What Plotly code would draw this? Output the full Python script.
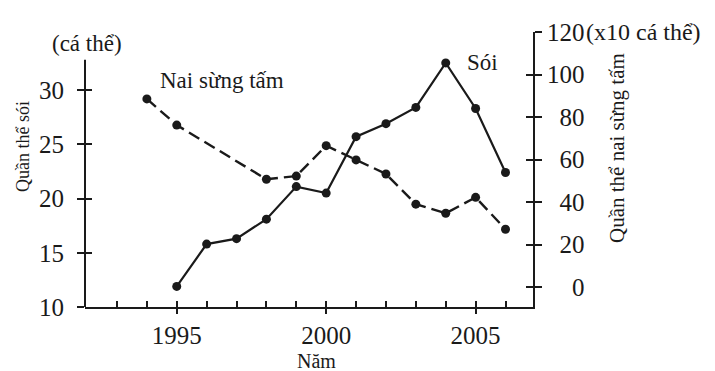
import plotly.graph_objects as go

# Data
wolf_years = [1995, 1996, 1997, 1998, 1999, 2000, 2001, 2002, 2003, 2004, 2005, 2006]
wolf_values = [11.9, 15.8, 16.3, 18.1, 21.1, 20.5, 25.7, 26.9, 28.4, 32.5, 28.3, 22.4]
deer_years = [1994, 1995, 1998, 1999, 2000, 2001, 2002, 2003, 2004, 2005, 2006]
deer_values = [88.5, 76.2, 50.7, 52.2, 66.5, 59.8, 53.2, 39.0, 34.7, 42.2, 27.2]
x_ticks = [1995, 2000, 2005]
left_ticks = [10, 15, 20, 25, 30]
right_ticks = [0, 20, 40, 60, 80, 100, 120]

FONT = "Liberation Serif"
INK = "#1a1a1a"
XR = [1991.93, 2006.92]
YL = [10, 35.35]
YR = [-9.41, 120]

# right-aligned labels on the right axis (pad with figure spaces)
right_text = [str(v).rjust(3, "\u2007") for v in right_ticks]

fig = go.Figure()
fig.add_trace(go.Scatter(x=wolf_years, y=wolf_values, mode="lines+markers", name="Sói",
                         line=dict(color=INK, width=2.2), marker=dict(color=INK, size=9),
                         yaxis="y", showlegend=False))
fig.add_trace(go.Scatter(x=deer_years, y=deer_values, mode="lines+markers", name="Nai sừng tấm",
                         line=dict(color=INK, width=2.4, dash="12px,6px"),
                         marker=dict(color=INK, size=9), yaxis="y2", showlegend=False))
# invisible helpers so overlay axes (inside tick halves) are drawn
fig.add_trace(go.Scatter(x=[None], y=[None], xaxis="x2", yaxis="y3", showlegend=False, hoverinfo="skip"))
fig.add_trace(go.Scatter(x=[None], y=[None], xaxis="x2", yaxis="y4", showlegend=False, hoverinfo="skip"))

tick_font = dict(family=FONT, size=25, color=INK)
fig.update_layout(
    width=715, height=371,
    margin=dict(l=85, r=182, t=32, b=64),
    paper_bgcolor="white", plot_bgcolor="white",
    font=dict(family=FONT, color=INK),
    xaxis=dict(range=XR, tickvals=x_ticks, ticks="outside", ticklen=5, tickwidth=1.5,
               tickcolor=INK, showline=True, linecolor=INK, linewidth=2, showgrid=False,
               zeroline=False, tickfont=tick_font, ticklabelstandoff=0),
    xaxis2=dict(range=XR, overlaying="x", tickvals=list(range(1993, 2007)), ticks="inside",
                ticklen=6, tickwidth=1.5, tickcolor=INK, showticklabels=False, showgrid=False,
                zeroline=False, showline=False),
    yaxis=dict(range=YL, tickvals=left_ticks, ticks="outside", ticklen=7, tickwidth=1.5,
               tickcolor=INK, showline=False, showgrid=False, zeroline=False,
               tickfont=tick_font, ticklabelstandoff=8),
    yaxis3=dict(range=YL, overlaying="y", side="left", tickvals=left_ticks, ticks="inside",
                ticklen=7, tickwidth=1.5, tickcolor=INK, showticklabels=False,
                showgrid=False, zeroline=False, showline=False),
    yaxis2=dict(range=YR, overlaying="y", side="right", tickvals=right_ticks, ticktext=right_text,
                ticks="outside", ticklen=7, tickwidth=1.5, tickcolor=INK, showline=True,
                linecolor=INK, linewidth=2, showgrid=False, zeroline=False, tickfont=tick_font,
                ticklabelstandoff=0),
    yaxis4=dict(range=YR, overlaying="y", side="right", tickvals=right_ticks, ticks="inside",
                ticklen=7, tickwidth=1.5, tickcolor=INK, showticklabels=False,
                showgrid=False, zeroline=False, showline=False),
)

# left axis line (stops short of top)
fig.add_shape(type="line", xref="paper", yref="y", x0=0, x1=0, y0=10, y1=32.8,
              line=dict(color=INK, width=2))

def ann(text, x, y, size, xanchor="center", yanchor="middle", angle=0):
    fig.add_annotation(text=text, xref="paper", yref="paper", x=x, y=y, showarrow=False,
                       xanchor=xanchor, yanchor=yanchor, textangle=angle,
                       font=dict(family=FONT, size=size, color=INK))

W, H = 715 - 85 - 182, 371 - 32 - 64
px = lambda X: (X - 85) / W
py = lambda Y: (371 - 64 - Y) / H

ann("(cá thể)", px(87), py(43), 23)
ann("Nai sừng tấm", px(222), py(80), 23)
ann("Sói", px(482), py(63), 23)
ann("(x10 cá thể)", px(584), py(32), 24, xanchor="left")
ann("Năm", px(316), py(361), 20)
ann("Quần thể sói", px(23), py(147), 18, angle=-90)
ann("Quần thể nai sừng tấm", px(617), py(148), 21, angle=-90)

fig.write_html("out.html", config={"displayModeBar": False},
               post_script="document.body.style.margin='0';")
